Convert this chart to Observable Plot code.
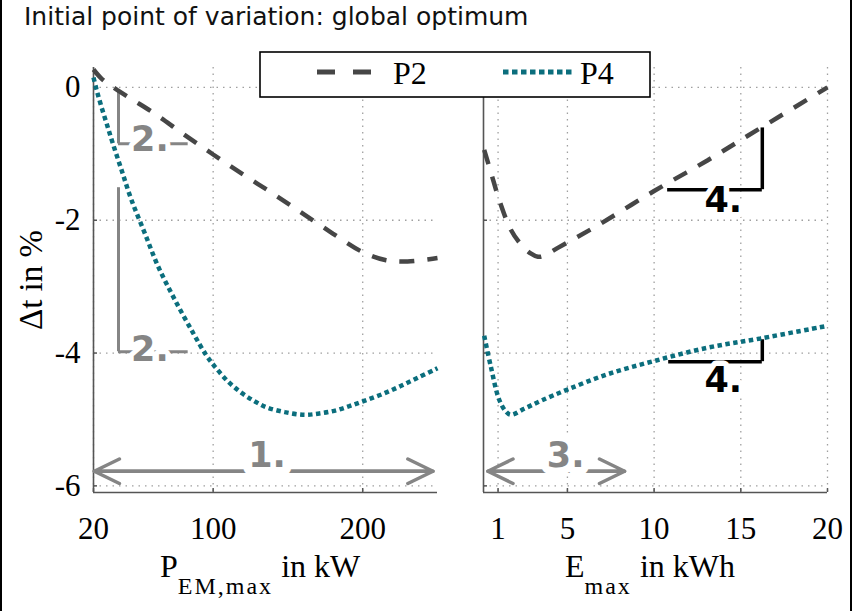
<!DOCTYPE html>
<html><head><meta charset="utf-8">
<script src="https://cdn.jsdelivr.net/npm/d3@7"></script>
<script src="https://cdn.jsdelivr.net/npm/@observablehq/plot@0.6"></script>
<style>
html,body{margin:0;padding:0;background:#fff;}
#fig{position:relative;width:856px;height:611px;overflow:hidden;background:#fff;}
#title{position:absolute;left:24px;top:4px;font-family:"DejaVu Sans",Verdana,sans-serif;font-size:25px;line-height:25px;white-space:nowrap;color:#111;}
.border{position:absolute;top:0;width:2px;height:611px;background:#000;}
</style></head><body>
<div id="fig">
  <div id="title">Initial point of variation: global optimum</div>
</div>
<script>
// ---------- data ----------
const yTicks = [0, -2, -4, -6];
const powerTicks = [20, 100, 200];
const energyTicks = [1, 5, 10, 15, 20];
const yDomain = [-6.1, 0.3];
const powerDomain = [20, 250];
const energyDomain = [0.16, 20];

// left panel: P_EM,max in kW
const p2PowerKW = [20, 25, 30, 36, 45, 60, 80, 100, 120, 140, 160, 180, 200, 215, 230, 250];
const p2PowerDt = [0.27, 0.14, 0.05, -0.04, -0.17, -0.38, -0.7, -1.01, -1.31, -1.6, -1.9, -2.2, -2.48, -2.6, -2.62, -2.57];
const p4PowerKW = [20, 22, 25, 29, 33, 38.7, 45.3, 54.2, 63.1, 74.2, 86.4, 95.3, 101, 110, 119, 128, 136, 148, 161, 171, 181, 191, 201, 213, 225, 237, 250];
const p4PowerDt = [0.15, -0.03, -0.27, -0.56, -0.85, -1.24, -1.69, -2.19, -2.69, -3.19, -3.69, -4.03, -4.2, -4.43, -4.6, -4.73, -4.82, -4.89, -4.93, -4.91, -4.87, -4.8, -4.72, -4.62, -4.5, -4.37, -4.23];

// right panel: E_max in kWh
const p2EnergyKWh = [0.2, 0.6, 1.06, 1.73, 2.31, 2.88, 3.3, 3.6, 4.42, 6.73, 10, 13.07, 16.14, 20];
const p2EnergyDt = [-0.94, -1.29, -1.69, -2.14, -2.36, -2.5, -2.55, -2.54, -2.42, -2.08, -1.56, -1.1, -0.61, 0.0];
const p4EnergyKWh = [0.2, 0.58, 1.06, 1.45, 1.73, 2.5, 3.46, 5, 7.3, 10, 13.07, 16.14, 20];
const p4EnergyDt = [-3.74, -4.2, -4.7, -4.88, -4.93, -4.84, -4.72, -4.55, -4.32, -4.12, -3.92, -3.78, -3.59];

// annotations
const bracket2X = [36.7, 36.7];
const bracket2Top = [-0.04, -1.51];
const bracket2Bottom = [-0.85, -3.98];
const bracket2FootEnd = [83.3, 83.3];
const bracket2LabelX = [57.7, 57.7];
const bracket2LabelY = [-0.95, -4.12];
const span1 = {from: 20.5, to: 247, y: -5.78, labelX: 136, labelY: -5.72, label: "1."};
const span3 = {from: 0.41, to: 8.3, y: -5.78, labelX: 4.9, labelY: -5.72, label: "3."};
const step4X = [16.24, 16.24];
const step4Top = [-0.61, -3.80];
const step4Bottom = [-1.54, -4.13];
const step4Start = [10.78, 10.84];
const step4LabelX = [13.99, 13.99];
const step4LabelY = [-1.87, -4.59];

// ---------- styles ----------
const SERIF = "Liberation Serif, Times New Roman, serif";
const SANS = "DejaVu Sans, Verdana, sans-serif";
const P2C = "#464646", P4C = "#0b6e7d", GRAYA = "#858585", AXC = "#555", GRIDC = "#a0a0a0";
const zip = (xs, ys) => xs.map((x, i) => ({x, y: ys[i]}));

function panel({width, marginLeft, marginRight, xDomain, xTicks, yLabels, marks}) {
  return Plot.plot({
    width, height: 611, marginTop: 67, marginBottom: 119, marginLeft, marginRight,
    x: {domain: xDomain, axis: null, label: null},
    y: {domain: yDomain, axis: null, label: null},
    style: {background: "transparent", overflow: "visible", fontFamily: SERIF},
    marks: [
      Plot.gridX(xTicks, {stroke: GRIDC, strokeOpacity: 1, strokeWidth: 1.3, strokeDasharray: "1.5,5"}),
      Plot.gridY(yTicks, {stroke: GRIDC, strokeOpacity: 1, strokeWidth: 1.3, strokeDasharray: "1.5,5"}),
      Plot.ruleX([xDomain[0]], {stroke: AXC, strokeWidth: 1.6}),
      Plot.ruleY([yDomain[0]], {stroke: AXC, strokeWidth: 1.6}),
      Plot.axisX(xTicks, {tickSize: -4, stroke: AXC, strokeWidth: 1.5, fill: "none", label: null}),
      Plot.axisY(yTicks, {tickSize: -4, stroke: AXC, strokeWidth: 1.5, fill: "none", label: null}),
      Plot.axisX(xTicks, {tickSize: 0, tickPadding: 24, fontSize: 31, fontFamily: SERIF, fill: "#000", label: null}),
      yLabels ? Plot.axisY(yTicks, {tickSize: 0, tickPadding: 13, fontSize: 31, fontFamily: SERIF, fill: "#000", label: null, tickFormat: d => String(d)}) : null,
      ...marks
    ]
  });
}

const spanArrows = s => [{x1: s.from, x2: s.to, y: s.y}, {x1: s.to, x2: s.from, y: s.y}];
const textStyle = (fill, halo) => ({fontFamily: SANS, fontWeight: "bold", fontSize: 35, fill, stroke: "white", strokeWidth: halo, textAnchor: "middle", lineAnchor: "bottom"});
const p2Style = {x: "x", y: "y", stroke: P2C, strokeWidth: 4.5, strokeDasharray: "15,13", strokeLinecap: "butt", strokeLinejoin: "miter", curve: "catmull-rom"};
const p4Style = {x: "x", y: "y", stroke: P4C, strokeWidth: 4.5, strokeDasharray: "4.5,3.5", strokeLinecap: "butt", strokeLinejoin: "miter", curve: "catmull-rom"};

const brackets = bracket2X.map((x, i) => ({x, top: bracket2Top[i], bottom: bracket2Bottom[i], end: bracket2FootEnd[i], lx: bracket2LabelX[i], ly: bracket2LabelY[i]}));
const steps = step4X.map((x, i) => ({x, top: step4Top[i], bottom: step4Bottom[i], start: step4Start[i], lx: step4LabelX[i], ly: step4LabelY[i]}));

const left = panel({
  width: 460, marginLeft: 93, marginRight: 23, xDomain: powerDomain, xTicks: powerTicks, yLabels: true,
  marks: [
    Plot.ruleX(brackets, {x: "x", y1: "top", y2: "bottom", stroke: GRAYA, strokeWidth: 3}),
    Plot.ruleY(brackets, {y: "bottom", x1: "x", x2: "end", stroke: GRAYA, strokeWidth: 3}),
    Plot.arrow(spanArrows(span1), {x1: "x1", x2: "x2", y1: "y", y2: "y", stroke: GRAYA, strokeWidth: 3.5, headLength: 12, headAngle: 52}),
    Plot.text(brackets, {x: "lx", y: "ly", text: () => "2.", ...textStyle(GRAYA, 10)}),
    Plot.text([span1], {x: "labelX", y: "labelY", text: "label", ...textStyle(GRAYA, 18)}),
    Plot.line(zip(p2PowerKW, p2PowerDt), p2Style),
    Plot.line(zip(p4PowerKW, p4PowerDt), p4Style)
  ]
});

const right = panel({
  width: 396, marginLeft: 23, marginRight: 29, xDomain: energyDomain, xTicks: energyTicks, yLabels: false,
  marks: [
    Plot.ruleX(steps, {x: "x", y1: "top", y2: "bottom", stroke: "#000", strokeWidth: 3.5}),
    Plot.ruleY(steps, {y: "bottom", x1: "start", x2: "x", stroke: "#000", strokeWidth: 3.5}),
    Plot.arrow(spanArrows(span3), {x1: "x1", x2: "x2", y1: "y", y2: "y", stroke: GRAYA, strokeWidth: 3.5, headLength: 12, headAngle: 52}),
    Plot.text(steps, {x: "lx", y: "ly", text: () => "4.", ...textStyle("#000", 11)}),
    Plot.text([span3], {x: "labelX", y: "labelY", text: "label", ...textStyle(GRAYA, 15)}),
    Plot.line(zip(p2EnergyKWh, p2EnergyDt), p2Style),
    Plot.line(zip(p4EnergyKWh, p4EnergyDt), p4Style)
  ]
});

const fig = document.getElementById("fig");
for (const [svg, x] of [[left, 0], [right, 460]]) {
  svg.style.position = "absolute";
  svg.style.left = x + "px";
  svg.style.top = "0px";
  fig.appendChild(svg);
}

// axis titles with subscripts
function xTitle(svg, x, main, sub, rest) {
  const t = d3.select(svg).append("text").attr("x", x).attr("y", 577).attr("text-anchor", "start")
    .attr("font-family", SERIF).attr("font-size", 32).attr("fill", "#000").style("white-space", "pre");
  t.append("tspan").text(main);
  t.append("tspan").attr("dy", 17).attr("font-size", 24).attr("letter-spacing", 2).text(sub);
  t.append("tspan").attr("dy", -17).attr("font-size", 32).attr("letter-spacing", 0).text(rest);
}
xTitle(left, 160, "P", "EM,max", " in kW");
xTitle(right, 565 - 460, "E", "max", " in kWh");
d3.select(left).append("text").attr("transform", "translate(42,280) rotate(-90)")
  .attr("text-anchor", "middle").attr("font-family", SERIF).attr("font-size", 33).attr("fill", "#000")
  .text("\u0394t in %");

// legend
const leg = d3.select(fig).append("svg").attr("width", 393).attr("height", 48)
  .style("position", "absolute").style("left", "259px").style("top", "51px");
leg.append("rect").attr("x", 1).attr("y", 1).attr("width", 390).attr("height", 45)
  .attr("fill", "#fff").attr("stroke", "#000").attr("stroke-width", 1.6);
leg.append("line").attr("x1", 58).attr("x2", 113).attr("y1", 21).attr("y2", 21)
  .attr("stroke", P2C).attr("stroke-width", 5).attr("stroke-dasharray", "18,18");
leg.append("text").attr("x", 134).attr("y", 33).attr("font-family", SERIF).attr("font-size", 32).text("P2");
leg.append("line").attr("x1", 244).attr("x2", 313).attr("y1", 21).attr("y2", 21)
  .attr("stroke", P4C).attr("stroke-width", 5).attr("stroke-dasharray", "5.5,3.5");
leg.append("text").attr("x", 321).attr("y", 33).attr("font-family", SERIF).attr("font-size", 32).text("P4");

// outer frame lines
for (const x of [0, 850]) {
  const d = document.createElement("div");
  d.className = "border";
  d.style.left = x + "px";
  fig.appendChild(d);
}
</script>
</body></html>
